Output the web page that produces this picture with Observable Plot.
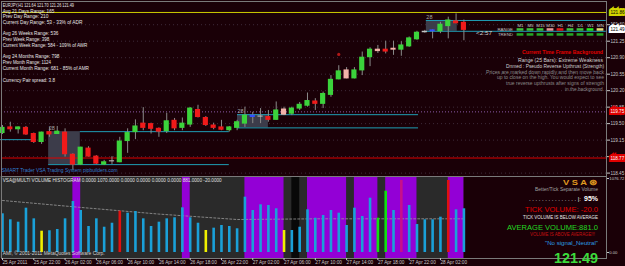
<!DOCTYPE html>
<html><head><meta charset="utf-8">
<script src="https://cdn.jsdelivr.net/npm/d3@7"></script>
<script src="https://cdn.jsdelivr.net/npm/@observablehq/plot@0.6"></script>
<style>
html,body{margin:0;padding:0;background:#1a0007;}
#wrap{position:relative;width:625px;height:266px;overflow:hidden;background:#1a0007;}
#wrap svg{position:absolute;}
</style></head>
<body><div id="wrap"></div>
<script>
// ---------------- DATA ----------------
const opens = [119.30,119.42,119.38,119.41,119.28,119.11,119.32,119.28,119.31,118.84,
 118.63,118.97,118.80,118.63,118.70,118.68,119.13,119.32,119.50,119.49,
 119.39,119.34,119.56,119.41,119.48,119.79,119.62,119.46,119.42,119.36,
 119.41,119.50,119.67,119.65,119.64,119.58,119.80,119.71,119.82,119.88,
 119.97,119.92,120.11,120.44,120.63,120.46,120.63,120.91,121.07,121.07,
 121.07,121.07,121.14,121.29,121.44,121.46,121.46,121.57,121.67,121.64];
const highs = [119.46,119.53,119.43,119.44,119.30,119.32,119.42,119.44,119.39,118.86,
 119.00,119.01,118.82,118.72,118.80,119.21,119.39,119.58,119.84,119.51,
 119.41,119.72,119.61,119.62,119.84,119.89,119.65,119.51,119.57,119.44,
 119.57,119.85,119.74,119.82,119.78,119.96,119.85,119.85,119.95,120.15,
 120.03,120.17,120.52,120.73,120.69,120.69,121.02,121.11,121.16,121.25,
 121.25,121.24,121.34,121.46,121.48,121.49,121.65,121.76,121.83,121.70];
const lows = [119.27,119.32,119.28,119.25,119.08,119.06,119.21,119.27,118.79,118.51,
 118.61,118.79,118.63,118.61,118.63,118.67,118.87,119.16,119.35,119.28,
 119.21,119.29,119.35,119.35,119.42,119.62,119.44,119.37,119.35,119.32,
 119.35,119.42,119.50,119.50,119.53,119.57,119.67,119.67,119.78,119.85,
 119.78,119.82,120.06,120.43,120.45,120.45,120.52,120.71,120.99,120.98,
 120.95,120.93,121.12,121.27,121.42,121.30,121.41,121.30,121.62,121.26];
const closes = [119.41,119.38,119.42,119.27,119.11,119.31,119.27,119.33,118.85,118.63,
 118.99,118.80,118.65,118.68,118.70,119.12,119.30,119.44,119.41,119.39,
 119.33,119.55,119.40,119.50,119.82,119.64,119.47,119.41,119.37,119.42,
 119.53,119.67,119.64,119.65,119.58,119.78,119.69,119.82,119.90,119.98,
 119.92,120.13,120.43,120.61,120.46,120.63,120.90,121.07,121.04,121.03,
 121.09,121.16,121.31,121.43,121.45,121.48,121.60,121.69,121.63,121.49];
const candleSignalIdx  = [14, 32, 33, 36, 44, 48, 50, 54, 55];
const candleSignalKind = ["doji","blue","doji","pale","pale","pale","pale","doji","blue"];

const volumes = [563,476,441,645,490,310,316,335,490,742,
 611,378,490,368,426,601,572,597,490,378,
 441,490,505,650,505,426,320,354,393,378,
 345,805,611,694,684,636,320,320,368,621,
 499,538,611,572,393,645,524,790,499,892,
 611,1048,684,407,476,476,514,1048,621,636];
const volumeSignalIdx  = [5, 15, 26, 36, 48, 49, 51, 57];
const volumeSignalKind = ["yellow","red","yellow","yellow","green","green","magenta","red"];
const avgVolumeIdx = [0, 10, 20, 30, 40, 50, 59];
const avgVolumeVal = [757, 656, 559, 480, 490, 490, 490];
const zoneStart = [-0.3, 9, 23, 31, 37, 39, 45, 49, 57];
const zoneEnd   = [59, 10, 24, 36, 38, 44, 48, 53, 59];
const zoneKind  = ["base","purple","purple","purple","black","purple","purple","purple","purple"];

const timeLabels = ["25 Apr 2011","25 Apr 22:00","26 Apr 02:00","26 Apr 06:00","26 Apr 10:00",
 "26 Apr 14:00","26 Apr 18:00","26 Apr 22:00","27 Apr 02:00","27 Apr 06:00","27 Apr 10:00",
 "27 Apr 14:00","27 Apr 18:00","27 Apr 22:00","28 Apr 02:00"];
const priceTicks = [121.60,121.25,120.90,120.55,120.20,119.85,119.50,119.15,118.80,118.45];
const volumeTicks = [0, 1076.72];

const boxStart = [5.9, 30.05, 54.2];
const boxEnd   = [9.95, 34.0, 58.15];
const boxHigh  = [119.33, 119.69, 121.69];
const boxLow   = [118.63, 119.41, 121.46];
const boxLabel = ["28", "28", "28"];
const levelPrice = [119.16, 119.33, 118.63, 119.69, 119.41, 121.69, 121.46];
const levelFrom  = [-0.3, 9.95, 5.9, 30.05, 30.05, 54.2, 54.2];
const levelTo    = [4.35, 29.0, 29.0, 53.2, 53.2, 77.2, 77.2];
const dayHigh = 121.86, supportLevel = 118.77, vsaLevel = 119.75, lastPrice = 121.49;
const signalDotIdx = [43], signalDotPrice = [120.97];

const tfNames = ["M1","M5","M15","M30","H1","H4","D1","W1","MN"];
const tfRows = ["RANGE","TREND"];
const tfRange = ["up","up","up","weak","down","up","up","strong","flat"];
const tfTrend = ["trend","trend","trend","trend","trend","trend","trend","trend","trend"];

// ---------------- BUILD ----------------
const GREEN = "#3bd33b", RED = "#f01a1a";
const sigMap = new Map(candleSignalIdx.map((i,k)=>[i,candleSignalKind[k]]));
const candles = opens.map((o,i)=>({i, open:o, high:highs[i], low:lows[i], close:closes[i], sig:sigMap.get(i)}));
const bodyColor = d => d.sig==="blue" ? "#3050ff" : d.sig==="doji" ? "#c4c4c4" : d.sig==="pale" ? "#f2b2a8" : d.close>=d.open ? GREEN : RED;
const boxes = boxStart.map((a,k)=>({a, b:boxEnd[k], hi:boxHigh[k], lo:boxLow[k], label:boxLabel[k]}));
const levels = levelPrice.map((p,k)=>({p, a:levelFrom[k], b:levelTo[k]}));
const dots = signalDotIdx.map((i,k)=>({i, p:signalDotPrice[k]}));
const tags = [
  {p: dayHigh, bg:"#d4d400", fg:"#000"},
  {p: lastPrice, bg:"#ffffff", fg:"#000"},
  {p: vsaLevel, bg:"#e00000", fg:"#fff"},
  {p: supportLevel, bg:"#e00000", fg:"#fff"}
];
const X = {domain:[0,59], range:[2,463.4], axis:null};
const FONT = "'Liberation Sans', Arial, sans-serif";
const baseStyle = {background:"transparent", overflow:"visible", fontFamily:FONT, color:"#c8c8c8"};

const pricePlot = Plot.plot({
  width:625, height:176, marginTop:1, marginBottom:0, marginLeft:1, marginRight:19,
  x: X,
  y: {domain:[118.45,121.25], range:[172.6,40.7], axis:null},
  style: baseStyle,
  marks: [
    Plot.ruleY(priceTicks, {stroke:"#3e2a3a", strokeDasharray:"1,3"}),
    Plot.ruleY([vsaLevel], {stroke:"#8a5aa8", strokeDasharray:"1,2"}),
    Plot.rect(boxes, {x1:"a", x2:"b", y1:"lo", y2:"hi", fill:"#3c3c4a"}),
    Plot.text(boxes, {x:"a", y:"hi", text:"label", dy:-3, textAnchor:"start", fill:"#a8a8a8", fontSize:5.5}),
    Plot.ruleY(levels, {y:"p", x1:"a", x2:"b", stroke:"#1f9db4"}),
    Plot.ruleY([supportLevel], {stroke:"#e00000"}),
    Plot.ruleY([dayHigh], {stroke:"#cccc00"}),
    Plot.ruleX(candles, {x:"i", y1:"low", y2:"high", stroke:"#8a8a8a"}),
    Plot.rect(candles, {x1:d=>d.i-0.33, x2:d=>d.i+0.33, y1:d=>Math.min(d.open,d.close), y2:d=>Math.max(d.open,d.close),
      fill:bodyColor, insetTop:-0.5, insetBottom:-0.5}),
    Plot.dot(dots, {x:"i", y:"p", r:1.6, fill:"#b01818"}),
    Plot.frame({stroke:"#7a7a7a"}),
    Plot.axisY({anchor:"right", ticks:priceTicks, tickSize:3, tickPadding:1, tickFormat:d=>d.toFixed(2), fontSize:4.6, label:null}),
    Plot.text(tags, {y:"p", text:d=>d.p.toFixed(2), frameAnchor:"right", dx:4, textAnchor:"start",
      fill:d=>d.fg, stroke:d=>d.bg, strokeWidth:4, strokeLinejoin:"miter", fontSize:4.6})
  ]
});

const vSig = new Map(volumeSignalIdx.map((i,k)=>[i,volumeSignalKind[k]]));
const volData = volumes.map((v,i)=>({i, v, s:vSig.get(i) || "normal"}));
const volColor = {normal:"#1aa0d8", yellow:"#f0f000", red:"#e01010", green:"#10e010", magenta:"#c8108a"};
const zones = zoneStart.map((a,k)=>({a, b:zoneEnd[k], kind:zoneKind[k]}));
const zoneColor = {base:"#2a2a2a", purple:"#9300d6", black:"#080808"};
const avgPts = avgVolumeIdx.map((i,k)=>({i, v:avgVolumeVal[k]}));

const volPlot = Plot.plot({
  width:625, height:91, marginTop:1, marginBottom:8, marginLeft:1, marginRight:19,
  x: X,
  y: {domain:[0,1076.72], range:[77,3], axis:null},
  style: baseStyle,
  marks: [
    Plot.rect(zones, {x1:"a", x2:"b", fill:d=>zoneColor[d.kind]}),
    Plot.line(avgPts, {x:"i", y:"v", stroke:"#9a9a9a", strokeWidth:0.8, strokeDasharray:"2,2"}),
    Plot.ruleX(volData, {x:"i", y1:0, y2:"v", stroke:d=>volColor[d.s], strokeWidth:2.6}),
    Plot.frame({stroke:"#7a7a7a"}),
    Plot.axisY({anchor:"right", ticks:volumeTicks, tickSize:2, tickPadding:0.8, tickFormat:d=>d.toFixed(2), fontSize:4.2, label:null}),
    Plot.axisX({anchor:"bottom", ticks:d3.range(0,57,4), tickSize:2, tickPadding:0.5, textAnchor:"start",
      tickFormat:i=>timeLabels[i/4], fontSize:4.7, label:null})
  ]
});

const tfCells = tfNames.flatMap((n,k)=>[{tf:n,row:"RANGE",s:tfRange[k]},{tf:n,row:"TREND",s:tfTrend[k]}]);
const tfColor = {up:"#3cc43c", weak:"#e89a9a", down:"#e01818", strong:"#22ee22", flat:"#e6e07a", trend:"#24a824"};
const tfPlot = Plot.plot({
  width:91, height:18, marginTop:7, marginBottom:1, marginLeft:0, marginRight:0,
  x:{domain:tfNames, padding:0, axis:null}, y:{domain:tfRows, padding:0, axis:null},
  style: baseStyle,
  marks: [
    Plot.cell(tfCells, {x:"tf", y:"row", fill:d=>tfColor[d.s], insetLeft:1.6, insetRight:1.6, insetTop:1.2, insetBottom:1.3}),
    Plot.axisX({anchor:"top", tickSize:0, tickPadding:1, fontSize:4.4, label:null, fill:"#d0d0d0"}),
    Plot.axisY({anchor:"left", tickSize:0, tickPadding:1.5, fontSize:4.4, label:null, fill:"#c0c0c0"})
  ]
});

const wrap = document.getElementById("wrap");
pricePlot.style.left = "0px"; pricePlot.style.top = "0px";
volPlot.style.left = "0px"; volPlot.style.top = "175px";
tfPlot.style.left = "514px"; tfPlot.style.top = "20px";
wrap.append(pricePlot, volPlot, tfPlot);

// ---------------- TEXT OVERLAY ----------------
const ov = d3.create("svg").attr("width",625).attr("height",266)
  .style("left","0px").style("top","0px").style("pointer-events","none")
  .attr("font-family", "Liberation Sans, Arial, sans-serif");
function label(x, y, t, o = {}) {
  const el = ov.append("text").attr("x",x).attr("y",y).attr("font-size",o.size||5.2)
    .attr("fill",o.fill||"#e6e6e6").attr("text-anchor",o.anchor||"start")
    .attr("font-weight",o.weight||"normal").text(t);
  if (o.w) el.attr("textLength",o.w).attr("lengthAdjust","spacingAndGlyphs");
}
const infoLines = [
  ["EURJPY,H1  121.64 121.70 121.26 121.49", 7.2, 71.3],
  ["Avg 21 Days Range: 165", 12.7, 51.7],
  ["Prev Day Range: 210", 17.7, 45.7],
  ["Current Day Range: 53 - 33% of ADR", 24.0, 79.7],
  ["Avg 26 Weeks Range: 536", 35.3, 55.7],
  ["Prev Week Range: 398", 41.0, 46.7],
  ["Current Week Range: 584 - 109% of AWR", 46.7, 84.7],
  ["Avg 24 Months Range: 798", 58.3, 56.7],
  ["Prev Month Range: 1124", 64.3, 48.3],
  ["Current Month Range: 681 - 85% of AMR", 70.0, 86.3],
  ["Currency Pair spread: 3.8", 82.3, 52.3]
];
infoLines.forEach(([t,y,w]) => label(2.7, y, t, {w}));

label(603, 54.2, "Current Time Frame Background", {anchor:"end", fill:"#e00000", weight:"bold", size:5.4, w:81});
label(603, 61.8, "Range (25 Bars): Extreme Weakness", {anchor:"end", fill:"#d0d0d0", w:85});
label(604, 67.5, "Dnmed : Pseudo Reverse Upthrust (Strength)", {anchor:"end", fill:"#d0d0d0", w:98});
label(604, 73.5, "Prices are marked down rapidly and then move back", {anchor:"end", fill:"#8a8a8a", w:118});
label(604, 79.1, "up to close on the high. You would expect to see", {anchor:"end", fill:"#8a8a8a", w:107});
label(604, 85.1, "true reverse upthrusts after signs of strength", {anchor:"end", fill:"#8a8a8a", w:98});
label(604, 91.1, "in the background.", {anchor:"end", fill:"#8a8a8a", w:39});
label(476, 35.3, "<2:57", {fill:"#d0d0d0", size:5.5, w:16});

label(1.7, 172, "SMART Trader VSA Trading System pipbuilders.com", {fill:"#2f7fd0", size:5, w:116});
label(2.7, 182.2, "VSA@MULTI VOLUME HISTOGRAM 0.0000 1070.0000 0.0000 0.0000 0.0000 0.0000 881.0000 -20.0000", {fill:"#e0e0e0", size:5, w:219});
label(2.7, 255.2, "AMI, © 2001-2011 MetaQuotes Software Corp.", {fill:"#d0d0d0", size:5, w:102});

label(598, 184.5, "V S A ⊛", {anchor:"end", fill:"#e09a20", weight:"bold", size:7.5, w:35});
label(598, 190.8, "Better/Tick Separate Volume", {anchor:"end", fill:"#a0a0a0", size:4.8, w:63});
label(529, 200.5, ". . . . . . . . . . . . . . . |:", {fill:"#e8e8e8", size:6, w:52});
label(598, 200.5, "95%", {anchor:"end", fill:"#ffffff", weight:"bold", size:6.5, w:14});
label(598, 212, "TICK VOLUME: -20.0", {anchor:"end", fill:"#e00000", size:7.2, w:73});
label(598, 219, "TICK VOLUME IS BELOW AVERAGE", {anchor:"end", fill:"#e8e8e8", size:4.5, w:75});
label(598, 229.8, "AVERAGE VOLUME:881.0", {anchor:"end", fill:"#22d822", size:7.5, w:91});
label(595, 236, "VOLUME IS ABOVE AVERAGE!!!", {anchor:"end", fill:"#c81010", size:4.5, w:65});
label(598, 245.3, "\"No signal_Neutral\"", {anchor:"end", fill:"#2a9ee0", size:5.8, w:53});
label(598, 262.5, "121.49", {anchor:"end", fill:"#3cdc3c", weight:"bold", size:15, w:44});

wrap.append(ov.node());
</script>
</body></html>
